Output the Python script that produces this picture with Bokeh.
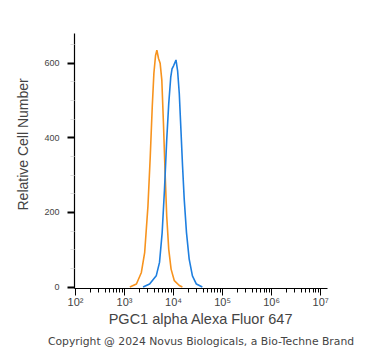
from bokeh.plotting import figure
from bokeh.models import FixedTicker, LogTicker, Title
from bokeh.embed import file_html
from bokeh.resources import INLINE

# Orange histogram (isotype / control)
orange_x = [1285, 1750, 2208, 2576, 3006, 3350, 3681, 3972, 4295, 4571, 4943,
            5333, 5768, 6223, 6730, 7261, 7980, 8913, 10375, 13092, 15136]
orange_y = [0, 8, 39, 92, 217, 350, 484, 573, 621, 635, 613,
            600, 555, 440, 306, 190, 101, 48, 17, 4, 0]

# Blue histogram (PGC1 alpha)
blue_x = [2388, 3251, 4436, 5176, 5861, 6531, 7261, 7980, 8770, 9311, 10069,
          11220, 12106, 13092, 14158, 15276, 16520, 18365, 20845, 24266, 29242, 38637]
blue_y = [0, 8, 30, 66, 146, 261, 395, 492, 563, 585, 594,
          609, 580, 519, 421, 324, 235, 146, 75, 30, 8, 0]

x_ticks = [100, 1000, 10000, 100000, 1000000, 10000000]
x_tick_labels = ["10²", "10³", "10⁴", "10⁵", "10⁶", "10⁷"]
y_ticks = [0, 200, 400, 600]
y_minor = [50, 100, 150, 250, 300, 350, 450, 500, 550, 650]

p = figure(width=371, height=351, x_axis_type="log",
           x_range=(10 ** 1.98, 10 ** 7.14), y_range=(-4, 680),
           output_backend="svg", toolbar_location=None,
           min_border_left=74, min_border_right=44, min_border_top=33, min_border_bottom=62)

p.line(orange_x, orange_y, line_color="#F7931E", line_width=1.6)
p.line(blue_x, blue_y, line_color="#1E7FE0", line_width=1.6)

p.grid.visible = False
p.outline_line_color = None
p.background_fill_color = "white"
p.border_fill_color = "white"

# x axis
xa = p.xaxis[0]
xa.ticker = LogTicker(desired_num_ticks=6, num_minor_ticks=10)
xa.major_label_overrides = {t: l for t, l in zip(x_ticks, x_tick_labels)}
xa.axis_label = "PGC1 alpha Alexa Fluor 647"
xa.axis_label_text_font = "Liberation Sans"
xa.axis_label_text_font_style = "normal"
xa.axis_label_text_font_size = "14.5px"
xa.axis_label_standoff = 0
xa.major_label_text_font = "Liberation Sans"
xa.major_label_text_font_size = "11px"
xa.major_label_standoff = 0
xa.major_tick_out = 7
xa.major_tick_in = 0
xa.minor_tick_out = 4
xa.minor_tick_in = 0
xa.axis_line_width = 1.2

# y axis
ya = p.yaxis[0]
ya.ticker = FixedTicker(ticks=y_ticks, minor_ticks=y_minor)
ya.axis_label = None
ya.major_label_text_font = "Liberation Sans"
ya.major_label_text_font_size = "9px"
ya.major_label_standoff = 8
ya.major_tick_out = 7
ya.major_tick_in = 0
ya.major_tick_line_width = 2
ya.minor_tick_out = 4
ya.minor_tick_in = 0
ya.minor_tick_line_color = "#dddddd"
ya.axis_line_width = 1.2

ylab = Title(text="Relative Cell Number", align="left", offset=78,
             text_font="Liberation Sans", text_font_size="14px",
             text_font_style="normal", standoff=22)
p.add_layout(ylab, "left")

credit = Title(text="Copyright @ 2024 Novus Biologicals, a Bio-Techne Brand",
               align="center", text_font="DejaVu Sans", text_font_size="10.8px",
               text_font_style="normal", standoff=7)
p.add_layout(credit, "below")

open("out.html", "w").write(file_html(p, INLINE))
